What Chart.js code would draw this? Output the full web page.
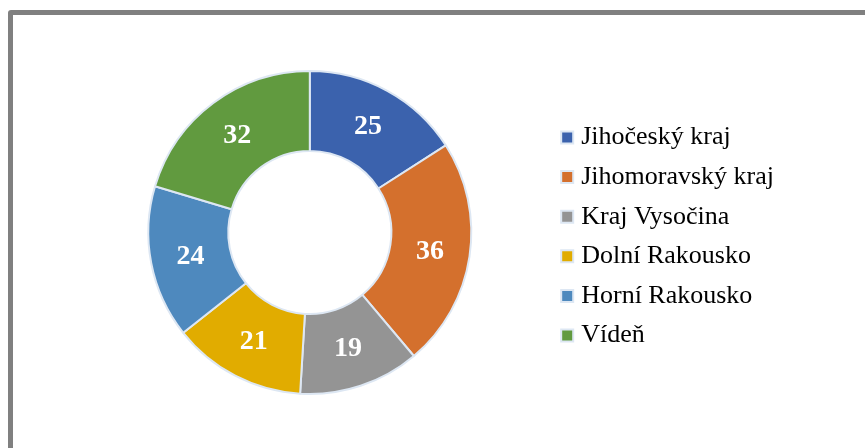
<!DOCTYPE html>
<html lang="cs">
	<head>
		<meta charset="UTF-8">
		<title>Kraje a regiony</title>
		<script src="https://cdn.jsdelivr.net/npm/chart.js"></script>
		<style>
			html, body { margin: 0; padding: 0; background: #fff; width: 865px; height: 448px; overflow: hidden; }
			#frame {
				position: absolute; left: 8px; top: 10px; width: 900px; height: 500px;
				border: 5px solid #808080; border-radius: 3px; box-sizing: border-box;
			}
			#wrap { position: absolute; left: 0; top: 0; width: 784px; height: 448px; }
		</style>
	</head>
	<body>
		<div id="frame"></div>
		<div id="wrap"><canvas id="donut"></canvas></div>

		<script>
			// Data
			const regions = ['Jihočeský kraj', 'Jihomoravský kraj', 'Kraj Vysočina', 'Dolní Rakousko', 'Horní Rakousko', 'Vídeň'];
			const values = [25, 36, 19, 21, 24, 32];
			const colors = ['#3B62AD', '#D4702D', '#949494', '#E1AC00', '#4E89BE', '#619A3F'];

			// Draw the value in the middle of each slice
			const sliceLabels = {
				id: 'sliceLabels',
				afterDatasetsDraw(chart) {
					const ctx = chart.ctx;
					const meta = chart.getDatasetMeta(0);
					ctx.save();
					ctx.fillStyle = '#ffffff';
					ctx.font = 'bold 28px "Liberation Serif", "Times New Roman", serif';
					ctx.textAlign = 'center';
					ctx.textBaseline = 'middle';
					meta.data.forEach((arc, i) => {
						const p = arc.getCenterPoint();
						ctx.fillText(String(chart.data.datasets[0].data[i]), p.x, p.y + 1);
					});
					ctx.restore();
				}
			};

			new Chart(document.getElementById('donut'), {
				type: 'doughnut',
				data: {
					labels: regions,
					datasets: [{
						data: values,
						backgroundColor: colors,
						borderColor: '#dde7f3',
						borderWidth: 2
					}]
				},
				options: {
					responsive: true,
					maintainAspectRatio: false,
					animation: false,
					cutout: '50.5%',
					layout: { padding: { left: 67, top: 70, bottom: 53, right: 0 } },
					plugins: {
						tooltip: { enabled: false },
						legend: {
							position: 'right',
							align: 'center',
							// empty title only nudges the items down a little
							title: { display: true, text: '', font: { size: 1, lineHeight: 1 }, padding: { top: 3.5, bottom: 3.5 } },
							labels: {
								usePointStyle: true,
								pointStyle: 'rect',
								boxWidth: 2,
								boxHeight: 12,
								padding: 13.6,
								color: '#000000',
								font: { family: '"Liberation Serif", "Times New Roman", serif', size: 26 }
							}
						}
					}
				},
				plugins: [sliceLabels]
			});
		</script>
	</body>
</html>
